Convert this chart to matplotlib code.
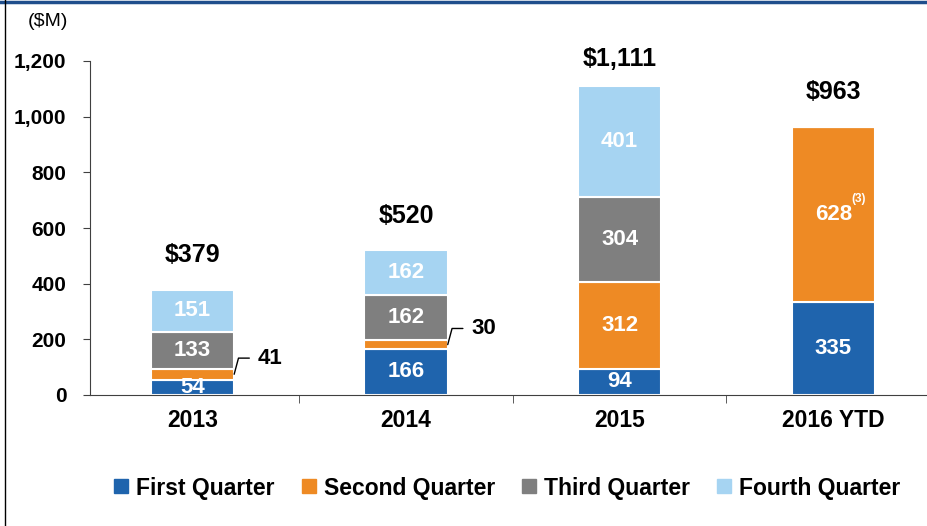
import numpy as np
import matplotlib.pyplot as plt
from matplotlib.lines import Line2D

# data ($M)
years = ['2013', '2014', '2015', '2016 YTD']
q1 = [54, 166, 94, 335]
q2 = [41, 30, 312, 628]
q3 = [133, 162, 304, 0]
q4 = [151, 162, 401, 0]
totals = ['$379', '$520', '$1,111', '$963']
series_names = ['First Quarter', 'Second Quarter', 'Third Quarter', 'Fourth Quarter']
colors = ['#1f64ad', '#ee8a24', '#7f7f7f', '#a6d4f2']
yticks = [0, 200, 400, 600, 800, 1000, 1200]

plt.rcParams['font.family'] = ['Liberation Sans', 'DejaVu Sans']

fig = plt.figure(figsize=(9.27, 5.26), dpi=100)
ax = fig.add_axes([90 / 927, 131 / 526, 850 / 927, 334 / 526])

x = np.arange(len(years))
width = 0.39
bottom = np.zeros(len(years))
series = [q1, q2, q3, q4]
for vals, col, name in zip(series, colors, series_names):
    vals = np.array(vals, dtype=float)
    ax.bar(x, vals, width, bottom=bottom, color=col, edgecolor='white',
           linewidth=1.5, label=name)
    for i, v in enumerate(vals):
        if v >= 50:
            ax.text(x[i], bottom[i] + v / 2, f'{int(v)}', ha='center', va='center',
                    color='white', fontsize=16, fontweight='bold')
    bottom += vals

# callouts for small second-quarter values
for i in [0, 1]:
    ymid = q1[i] + q2[i] / 2
    ax.annotate(f'{q2[i]}', xy=(x[i] + width / 2, ymid),
                xytext=(x[i] + width / 2 + 0.11, ymid + 58),
                fontsize=16, fontweight='bold', va='center', ha='left',
                arrowprops=dict(arrowstyle='-', color='black', lw=1,
                                connectionstyle='angle,angleA=0,angleB=75,rad=0',
                                shrinkA=4, shrinkB=0))

# superscript on 2016 second quarter
ax.text(x[3] + 0.12, q1[3] + q2[3] / 2 + 55, '(3)', color='white', fontsize=8.5,
        fontweight='bold', ha='center', va='center')

# totals
for i, t in enumerate(totals):
    off = 19 if i == 2 else 25
    ax.annotate(t, xy=(x[i], bottom[i]), xytext=(0, off), textcoords='offset points',
                ha='center', va='center', fontsize=18, fontweight='bold')

ax.set_xlim(-0.48, len(years) - 0.5)
ax.set_ylim(0, 1200)
ax.set_yticks(yticks)
ax.set_yticklabels([f'{v:,}' for v in yticks], fontsize=15, fontweight='bold')
ax.set_xticks(x)
ax.set_xticklabels(years, fontsize=16.5, fontweight='bold')
ax.set_xticks(np.arange(0.5, len(years) - 0.5, 1), minor=True)
ax.tick_params(axis='x', which='major', length=0, pad=10)
ax.tick_params(axis='x', which='minor', length=6, direction='out', color='#404040')
ax.tick_params(axis='y', length=5, direction='out', color='#404040', pad=12)
for s in ['top', 'right']:
    ax.spines[s].set_visible(False)
ax.spines['left'].set_color('#404040')
ax.spines['bottom'].set_color('#404040')

fig.text(48 / 927, 1 - 22 / 526, '($M)', fontsize=14, ha='center', va='center')

handles = [Line2D([], [], marker='s', linestyle='none', markersize=10,
                  markerfacecolor=c, markeredgecolor=c) for c in colors]
fig.legend(handles, series_names, loc='center', bbox_to_anchor=(0.546, 1 - 488 / 526),
           ncol=4, frameon=False, prop={'weight': 'bold', 'size': 16.5},
           handletextpad=0.25, columnspacing=1.1, handlelength=0.8)

# frame lines
fig.add_artist(Line2D([0, 1], [1 - 1.5 / 526] * 2, color='#1f4e8c', lw=2.5,
                      transform=fig.transFigure))
fig.add_artist(Line2D([4.5 / 927] * 2, [0, 1], color='black', lw=1,
                      transform=fig.transFigure))

fig.savefig('out.png', dpi=100)
